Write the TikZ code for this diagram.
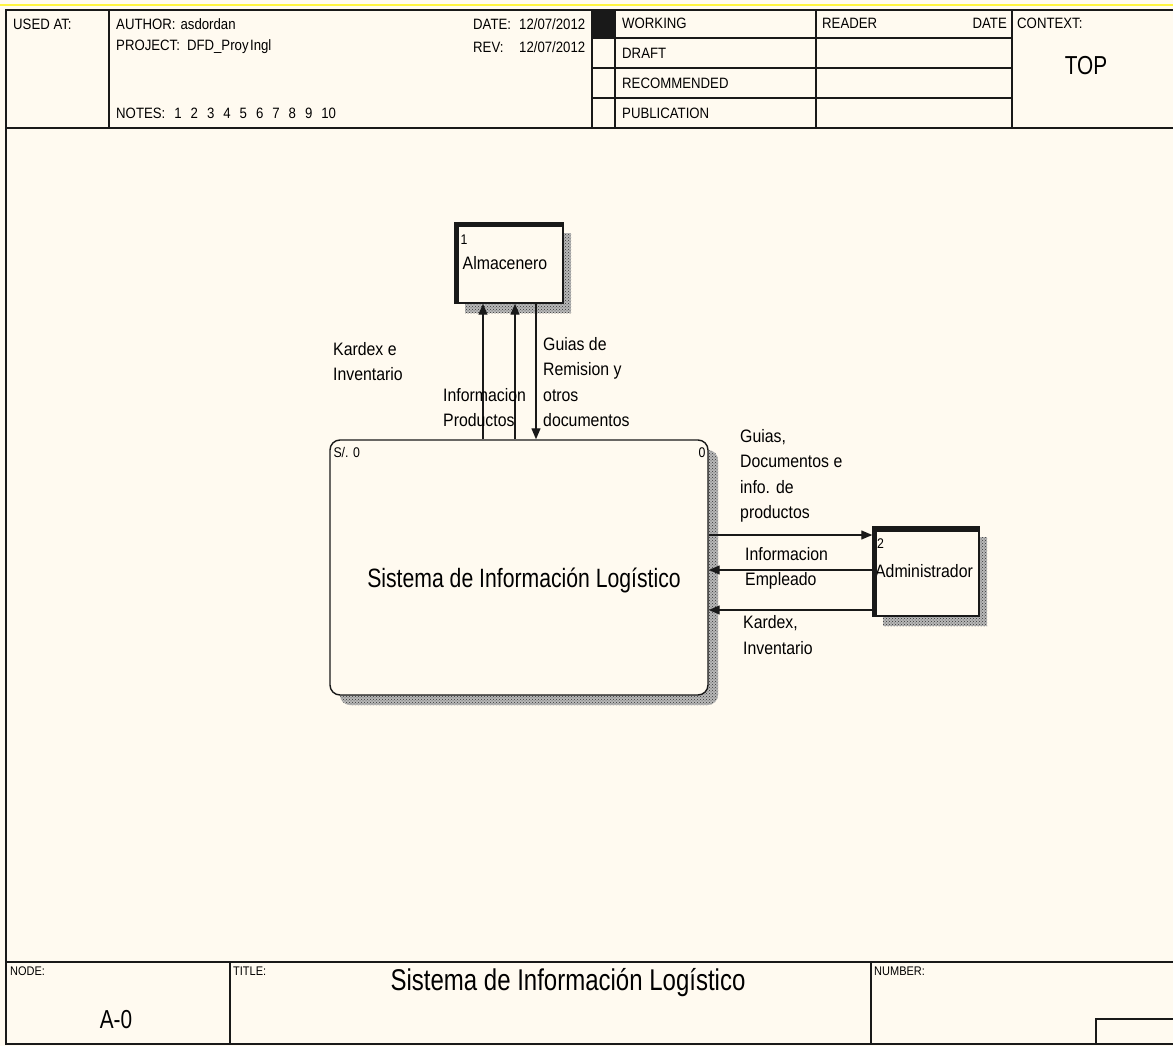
\documentclass[tikz,border=0pt]{standalone}
\usepackage{fontspec}
\setmainfont{Liberation Sans}[FakeStretch=0.88]
\newfontfamily\titlefont{Liberation Sans}[FakeStretch=0.8]
\usetikzlibrary{arrows.meta,patterns}
\definecolor{bg}{RGB}{255,250,240}
\definecolor{ln}{RGB}{25,25,25}
\begin{document}
\begin{tikzpicture}[x=1pt,y=-1pt,
 frame/.style={line width=1.6pt, draw=ln},
 hdr/.style={font=\fontsize{15}{17}\selectfont, inner sep=0pt},
 btm/.style={font=\fontsize{12.5}{14}\selectfont, inner sep=0pt, anchor=west},
 lbl/.style={font=\fontsize{18}{25.5}\selectfont, inner sep=0pt, align=left, anchor=west},
 small/.style={font=\fontsize{14}{16}\selectfont, inner sep=0pt},
 boxnode/.style={draw=ln, line width=1.4pt, fill=bg, inner sep=0pt, font=\fontsize{18}{20}\selectfont},
 shadowbase/.style={fill=black!28},
 shadow/.style={pattern=crosshatch dots, pattern color=black!80},
 arr/.style={draw=ln, line width=1.3pt, -{Triangle[length=11pt,width=9pt]}},
]
\fill[bg] (0,0) rectangle (1173,1046);
\useasboundingbox (0,0) rectangle (1173,1046);
\draw[yellow!75!white, line width=1.2pt] (0,5) -- (1173,5);

% frame
\draw[frame] (1173,10) -- (6,10) -- (6,1044) -- (1173,1044);
\draw[frame] (6,128) -- (1173,128);
\draw[frame] (109,10) -- (109,128);
\draw[frame] (592,10) -- (592,128);
\draw[frame] (615,10) -- (615,128);
\draw[frame] (816,10) -- (816,128);
\draw[frame] (1012,10) -- (1012,128);
\foreach \yy in {38,68,98} \draw[frame] (592,\yy) -- (1012,\yy);
\fill[ln] (592,10) rectangle (615,38);

\draw[frame] (6,962) -- (1173,962);
\draw[frame] (230,962) -- (230,1044);
\draw[frame] (871,962) -- (871,1044);
\draw[frame] (1096,1044) -- (1096,1019) -- (1173,1019);

% header text
\node[hdr, anchor=west] (usedat) at (13,24) {USED AT:};
\node[hdr, anchor=west] (author) at (116,24) {AUTHOR:\hspace{5pt}asdordan};
\node[hdr, anchor=west] (project) at (116,47) {PROJECT:\hspace{7pt}DFD\_Proy\hspace{1.5pt}Ingl};
\node[hdr, anchor=west] (notes) at (116,113) {NOTES:\hspace{9pt}1\hspace{9pt}2\hspace{9pt}3\hspace{9pt}4\hspace{9pt}5\hspace{9pt}6\hspace{9pt}7\hspace{9pt}8\hspace{9pt}9\hspace{9pt}10};
\node[hdr, anchor=west] (date) at (473,24) {\makebox[46pt][l]{DATE:}12/07/2012};
\node[hdr, anchor=west] (rev) at (473,47) {\makebox[46pt][l]{REV:}12/07/2012};
\node[hdr, anchor=west] (working) at (622,23) {WORKING};
\node[hdr, anchor=west] (draft) at (622,53) {DRAFT};
\node[hdr, anchor=west] (recom) at (622,83) {RECOMMENDED};
\node[hdr, anchor=west] (publ) at (622,113) {PUBLICATION};
\node[hdr, anchor=west] (reader) at (822,23) {READER};
\node[hdr, anchor=east] (rdate) at (1007,23) {DATE};
\node[hdr, anchor=west] (context) at (1017,23) {CONTEXT:};
\node[font=\titlefont\fontsize{26}{28}\selectfont, inner sep=0pt] (top) at (1086,66) {TOP};

% bottom text
\node[btm] (nodelbl) at (10,971) {NODE:};
\node[btm] (titlelbl) at (233,971) {TITLE:};
\node[btm] (numlbl) at (874,971) {NUMBER:};
\node[font=\titlefont\fontsize{30}{32}\selectfont, inner sep=0pt] (title) at (568,983) {Sistema de Información Logístico};
\node[font=\titlefont\fontsize{26}{28}\selectfont, inner sep=0pt] (nodeid) at (116,1020) {A-0};

% shadows
\fill[shadowbase] (465,233) rectangle (571,313);
\fill[shadow] (465,233) rectangle (571,313);
\fill[shadowbase, rounded corners=10pt] (340,450) rectangle (718,705);
\fill[shadow, rounded corners=10pt] (340,450) rectangle (718,705);
\fill[shadowbase] (883,537) rectangle (987,626);
\fill[shadow] (883,537) rectangle (987,626);

% boxes
\node[boxnode, minimum width=108pt, minimum height=80pt] (alm) at (509,263) {\hspace{-8pt}Almacenero};
\node[boxnode, rounded corners=10pt, minimum width=378pt, minimum height=255pt] (main) at (519,567.5) {};
\node[boxnode, minimum width=106pt, minimum height=89pt] (adm) at (926,571.5) {\hspace{-4pt}Administrador};

\fill[ln] (alm.north west) rectangle ([xshift=4.5pt]alm.south west);
\fill[ln] (alm.north west) rectangle ([yshift=-5pt]alm.north east);
\fill[ln] (adm.north west) rectangle ([xshift=4.5pt]adm.south west);
\fill[ln] (adm.north west) rectangle ([yshift=-6pt]adm.north east);

\node[small, anchor=west] (almnum) at ([xshift=6pt,yshift=-17pt]alm.north west) {1};
\node[small, anchor=west] (admnum) at ([xshift=4.5pt,yshift=-17pt]adm.north west) {2};
\node[small, anchor=west] (mainref) at ([xshift=4pt,yshift=-13pt]main.north west) {S/. 0};
\node[small, anchor=east] (mainnum) at ([xshift=-3pt,yshift=-13pt]main.north east) {0};
\node[font=\titlefont\fontsize{26.5}{28}\selectfont, inner sep=0pt] (maintitle) at ([xshift=5pt,yshift=-12.5pt]main.center) {Sistema de Información Logístico};

% connectors
\draw[arr] ([xshift=-36pt]main.north) -- ([xshift=-26pt]alm.south);
\draw[arr] ([xshift=-4pt]main.north) -- ([xshift=6pt]alm.south);
\draw[arr] ([xshift=27pt]alm.south) -- ([xshift=17pt]main.north);
\draw[arr] ([yshift=32.5pt]main.east) -- ([yshift=36.5pt]adm.west);
\draw[arr] ([yshift=1.5pt]adm.west) -- ([yshift=-2.5pt]main.east);
\draw[arr] ([yshift=-38.5pt]adm.west) -- ([yshift=-42.5pt]main.east);

% labels
\node[lbl] (kardex1) at (333,361.5) {Kardex e\\Inventario};
\node[lbl] (infoprod) at (443,407.5) {Informacion\\Productos};
\node[lbl] (guias1) at (543,382) {Guias de\\Remision y\\otros\\documentos};
\node[lbl] (guias2) at (740,476) {Guias,\\Documentos e\\info. de\\productos};
\node[lbl] (infoemp) at (745,568.5) {Informacion\\Empleado};
\node[lbl] (kardex2) at (743,635) {Kardex,\\Inventario};
\end{tikzpicture}
\end{document}
